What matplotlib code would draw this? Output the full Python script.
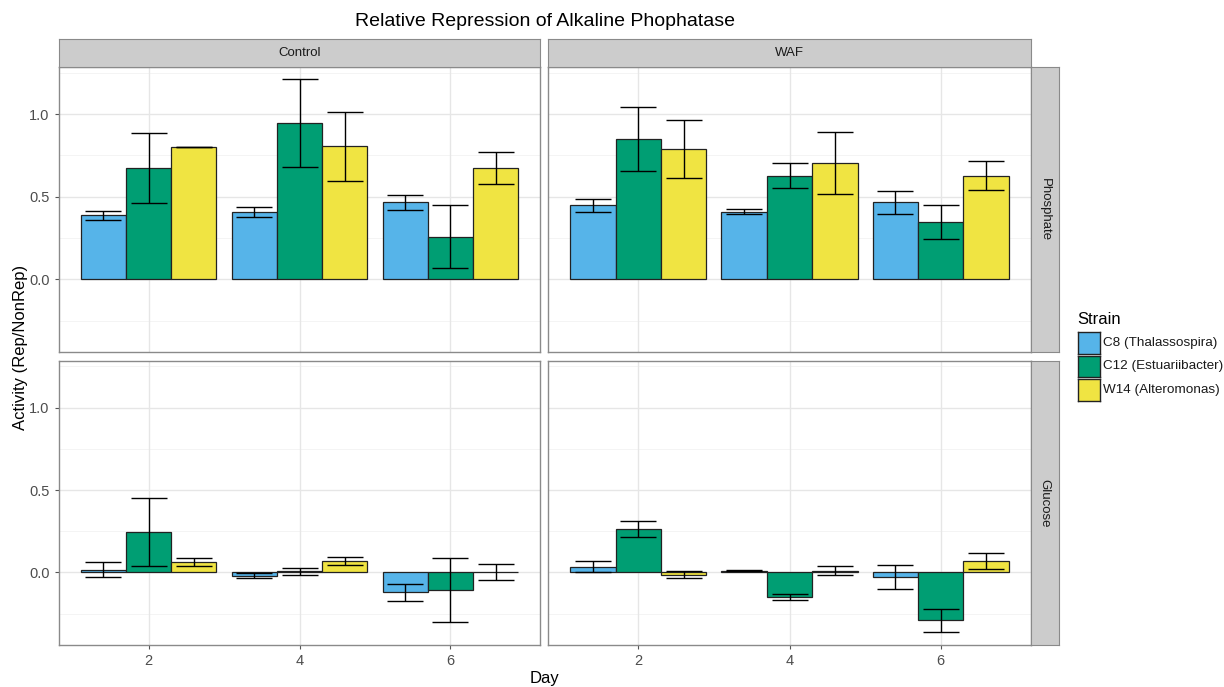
import numpy as np
import matplotlib
matplotlib.use("Agg")
import matplotlib.pyplot as plt

plt.rcParams["font.family"] = ["Liberation Sans", "DejaVu Sans"]

# --- data ---
days    = [2, 4, 6]
strains = ["C8 (Thalassospira)", "C12 (Estuariibacter)", "W14 (Alteromonas)"]
colors  = ["#56B4E9", "#009E73", "#F0E442"]

treatments = ["Control", "WAF"]
media      = ["Phosphate", "Glucose"]

# rows: strain (C8, C12, W14), cols: day (2, 4, 6)
ctrl_phos_mean = [[0.387, 0.408, 0.465], [0.674, 0.946, 0.258], [0.799, 0.805, 0.674]]
ctrl_phos_err  = [[0.027, 0.032, 0.048], [0.211, 0.264, 0.192], [0.000, 0.210, 0.096]]
waf_phos_mean  = [[0.447, 0.410, 0.465], [0.849, 0.628, 0.346], [0.787, 0.704, 0.628]]
waf_phos_err   = [[0.042, 0.016, 0.072], [0.191, 0.075, 0.104], [0.176, 0.189, 0.086]]
ctrl_glu_mean  = [[0.018, -0.020, -0.121], [0.244, 0.006, -0.107], [0.063, 0.069, 0.004]]
ctrl_glu_err   = [[0.045, 0.016, 0.053], [0.205, 0.019, 0.193], [0.023, 0.024, 0.048]]
waf_glu_mean   = [[0.036, 0.012, -0.026], [0.265, -0.147, -0.291], [-0.014, 0.012, 0.069]]
waf_glu_err    = [[0.032, 0.006, 0.072], [0.047, 0.018, 0.070], [0.022, 0.025, 0.050]]

panels = {
    ("Phosphate", "Control"): (ctrl_phos_mean, ctrl_phos_err),
    ("Phosphate", "WAF"):     (waf_phos_mean,  waf_phos_err),
    ("Glucose", "Control"):   (ctrl_glu_mean,  ctrl_glu_err),
    ("Glucose", "WAF"):       (waf_glu_mean,   waf_glu_err),
}

# --- layout in pixels ---
W, H = 1224, 687
col_x = [(58.7, 540.3), (548.3, 1030.7)]
row_y = [(67.0, 352.0), (360.7, 645.0)]
strip_top = (39.0, 67.0)
strip_right = (1030.7, 1059.0)

def rect(x0, x1, y0, y1):
    return [x0 / W, 1 - y1 / H, (x1 - x0) / W, (y1 - y0) / H]

fig = plt.figure(figsize=(W / 100, H / 100), dpi=100)

BORDER = "#8a8a8a"
TXT = "#4D4D4D"
bar_w = 0.6
offsets = [-0.6, 0.0, 0.6]

for r, med in enumerate(media):
    for c, trt in enumerate(treatments):
        x0, x1 = col_x[c]
        y0, y1 = row_y[r]
        ax = fig.add_axes(rect(x0, x1, y0, y1))
        mean, err = panels[(med, trt)]

        ax.set_axisbelow(True)
        for yv in [-0.25, 0.25, 0.75, 1.25]:
            ax.axhline(yv, color="#F3F3F3", lw=0.6, zorder=0)
        for yv in [0.0, 0.5, 1.0]:
            ax.axhline(yv, color="#E6E6E6", lw=1.0, zorder=0)
        for xv in days:
            ax.axvline(xv, color="#E6E6E6", lw=1.0, zorder=0)

        for s in range(3):
            xs = np.array(days) + offsets[s]
            ax.bar(xs, mean[s], width=bar_w, color=colors[s],
                   edgecolor="#222222", lw=0.9, zorder=2)
            ax.errorbar(xs, mean[s], yerr=err[s], fmt="none", ecolor="black",
                        elinewidth=1.0, capsize=13, capthick=1.0, zorder=3)

        ax.set_xlim(0.81, 7.19)
        ax.set_ylim(-0.44, 1.285)
        ax.set_xticks(days)
        ax.set_yticks([0.0, 0.5, 1.0])
        ax.set_yticklabels(["0.0", "0.5", "1.0"])
        ax.tick_params(length=3, color="#555555", labelcolor=TXT, labelsize=10.5, width=0.8)
        if c > 0:
            ax.tick_params(labelleft=False, left=False)
        if r == 0:
            ax.tick_params(labelbottom=False, bottom=False)
        for sp in ax.spines.values():
            sp.set_color(BORDER)
            sp.set_linewidth(1.0)

        # strips
        if r == 0:
            sax = fig.add_axes(rect(x0, x1, strip_top[0], strip_top[1]))
            sax.set_facecolor("#CCCCCC")
            sax.set_xticks([]); sax.set_yticks([])
            for sp in sax.spines.values():
                sp.set_color(BORDER)
            sax.text(0.5, 0.5, trt, ha="center", va="center", fontsize=9.5, color="#1a1a1a")
        if c == 1:
            sax = fig.add_axes(rect(strip_right[0], strip_right[1], y0, y1))
            sax.set_facecolor("#CCCCCC")
            sax.set_xticks([]); sax.set_yticks([])
            for sp in sax.spines.values():
                sp.set_color(BORDER)
            sax.text(0.5, 0.5, med, ha="center", va="center", rotation=-90,
                     fontsize=9.5, color="#1a1a1a")

fig.text(544.7 / W, 1 - 21 / H, "Relative Repression of Alkaline Phophatase",
         ha="center", va="center", fontsize=14)
fig.text(544.7 / W, 1 - 679 / H, "Day", ha="center", va="center", fontsize=12)
fig.text(21 / W, 1 - 347 / H, "Activity (Rep/NonRep)", ha="center", va="center",
         rotation=90, fontsize=12)

# legend
fig.text(1077 / W, 1 - 319 / H, "Strain", ha="left", va="center", fontsize=12)
key_top = 331.0
key_h = 23.5
for s in range(3):
    ky0 = key_top + s * key_h
    kax = fig.add_axes(rect(1078, 1100, ky0 + 1, ky0 + key_h - 1))
    kax.set_facecolor(colors[s])
    kax.set_xticks([]); kax.set_yticks([])
    for sp in kax.spines.values():
        sp.set_color("#222222")
        sp.set_linewidth(1.0)
    fig.text(1103 / W, 1 - (ky0 + key_h / 2) / H, strains[s], ha="left", va="center",
             fontsize=9.7, color="#1a1a1a")

fig.savefig("out.png", dpi=100)
